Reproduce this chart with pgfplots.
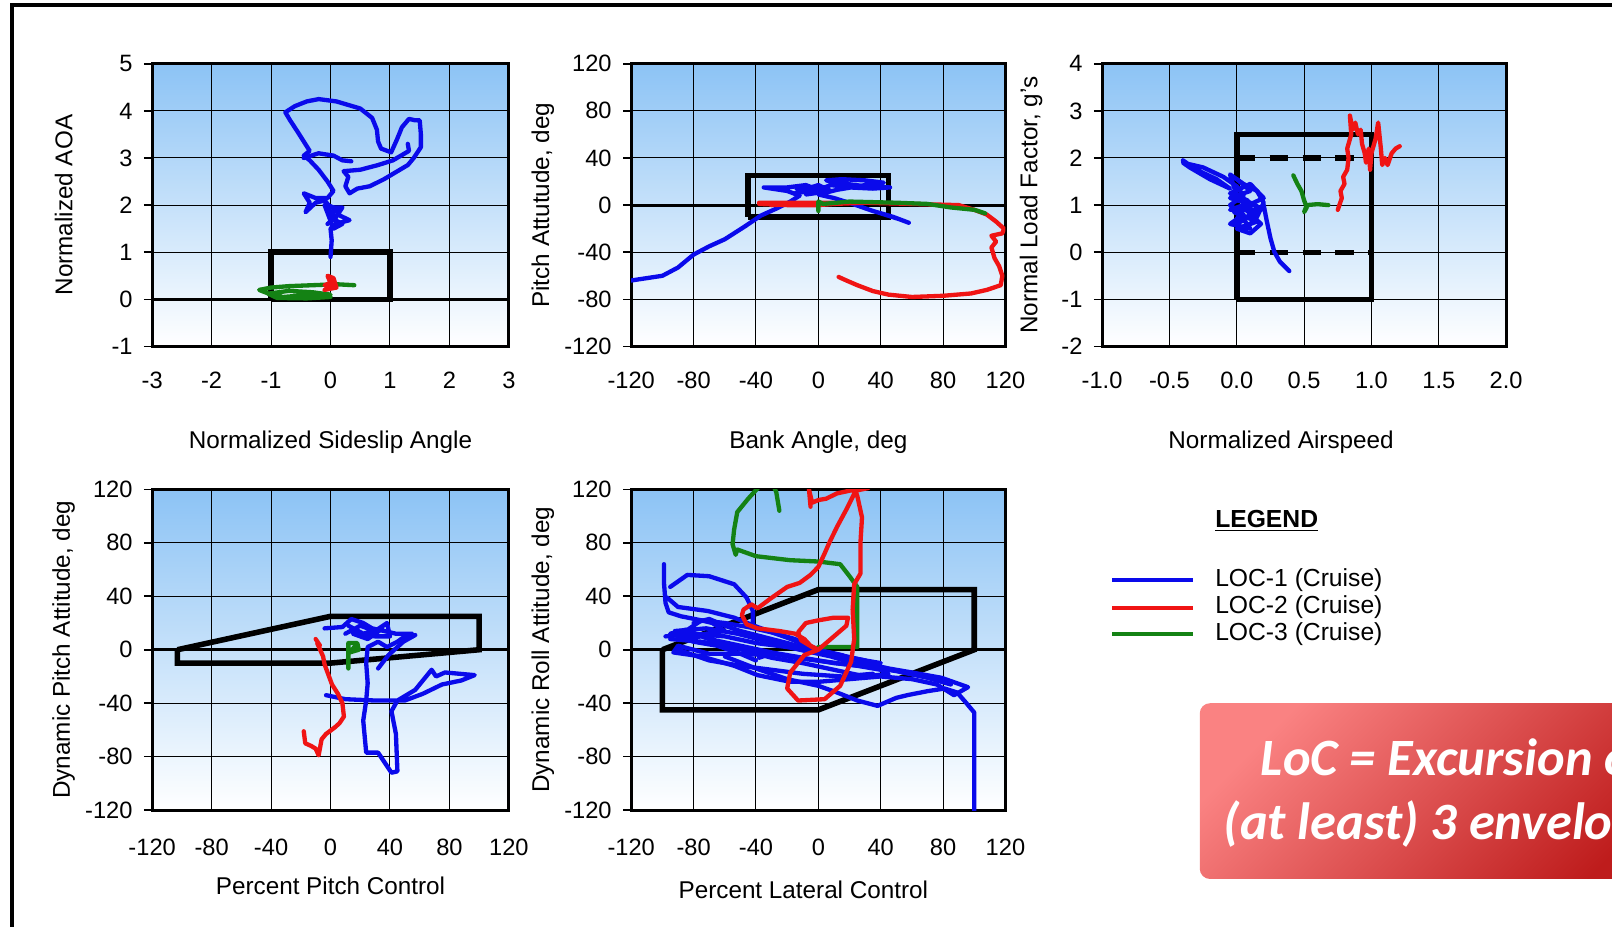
\documentclass[border=0pt]{standalone}
\usepackage{pgfplots}
\pgfplotsset{compat=1.18}
\usepackage{fontspec}
\setmainfont{Liberation Sans}
\newfontfamily\carlito{Carlito}
\definecolor{bgblue}{RGB}{140,195,245}
\definecolor{cblue}{RGB}{10,10,235}
\definecolor{cred}{RGB}{240,20,20}
\definecolor{cgreen}{RGB}{20,130,20}
\definecolor{boxlight}{RGB}{250,130,130}
\definecolor{boxdark}{RGB}{190,28,28}
\pgfplotsset{
 panel/.style={scale only axis, anchor=south west,
  axis line style={line width=1.5pt},
  grid=major, major grid style={black, line width=0.5pt},
  axis background/.style={top color=bgblue, bottom color=white},
  tick align=outside, xtick style={draw=none}, ytick style={black,line width=0.8pt},
  ytick pos=left, major tick length=4pt,
  tick label style={font=\fontsize{11.5}{13}\selectfont},
  /pgf/number format/assume math mode=true,
  xticklabel style={yshift=-5pt},
  yticklabel style={xshift=-2pt},
  every axis x label/.style={anchor=center, font=\fontsize{11.8}{14}\selectfont},
  every axis y label/.style={anchor=center, rotate=90, font=\fontsize{11.8}{14}\selectfont},
 },
 loc/.style={line width=2.1pt, line join=round, line cap=round},
 b/.style={loc, cblue}, r/.style={loc, cred}, g/.style={loc, cgreen},
 env/.style={black, line width=2.7pt, line join=miter},
 zl/.style={black, line width=1.5pt},
}
\begin{document}
\begin{tikzpicture}
\useasboundingbox (0,0) rectangle (784pt,450.5pt);
\clip (0,0) rectangle (784pt,450.5pt);
% outer frame
\draw[line width=2pt] (5.8pt,-5pt) -- (5.8pt,448pt) -- (800pt,448pt);

% Panel 1
\begin{axis}[panel, at={(74pt,282pt)}, width=173.5pt, height=137.5pt,
  xmin=-3, xmax=3, ymin=-1, ymax=5, xtick={-3,...,3}, ytick={-1,...,5},
  xlabel={Normalized Sideslip Angle}, ylabel={Normalized AOA},
  xlabel style={at={(axis description cs:0.5,-0.338)}},
  ylabel style={at={(axis description cs:-0.248,0.5)}}]
\addplot[zl] coordinates {(-3,0) (3,0)};
\addplot[env] coordinates {(-1,0) (-1,1) (1,1) (1,0) (-1,0)};
\addplot[b] coordinates {(0.0,0.9) (0.02,1.25) (0.0,1.5) (0.08,1.6) (0.32,1.68) (0.12,1.8) (0.2,1.95) (0.0,1.95) (-0.1,2.1) (-0.25,2.05) (-0.42,1.85) (-0.35,2.05) (-0.45,2.25) (-0.25,2.15) (-0.05,2.15) (0.05,2.3) (-0.05,2.5) (-0.2,2.75) (-0.35,2.95) (-0.45,3.05) (-0.35,3.15) (-0.45,3.35) (-0.55,3.55) (-0.68,3.8) (-0.76,3.97) (-0.6,4.1) (-0.4,4.2) (-0.2,4.25) (0.1,4.2) (0.5,4.05) (0.7,3.85) (0.78,3.6) (0.8,3.35) (0.85,3.2) (1.02,3.12) (1.12,3.4) (1.2,3.65) (1.32,3.83) (1.42,3.8) (1.5,3.8) (1.52,3.5) (1.52,3.23) (1.4,3.0) (1.3,2.85) (1.1,2.7) (0.9,2.55) (0.66,2.4) (0.45,2.35) (0.32,2.25) (0.25,2.4) (0.3,2.6) (0.22,2.72) (0.5,2.75) (0.8,2.85) (1.05,2.95) (1.32,3.15) (1.3,3.3)};
\addplot[b] coordinates {(-0.45,3.0) (-0.2,3.1) (0.05,3.05) (0.2,2.95) (0.35,2.93)};
\addplot[b] coordinates {(-0.05,1.6) (0.1,1.75) (0.0,1.85) (0.15,1.9) (-0.05,2.0) (0.05,1.7) (0.2,1.6) (0.05,1.5) (-0.1,2.0)};
\addplot[g] coordinates {(0.4,0.3) (0.1,0.32) (-0.3,0.3) (-0.7,0.28) (-1.0,0.25) (-1.2,0.2) (-1.0,0.1) (-0.8,0.05) (-0.5,0.08) (-0.2,0.05) (0.0,0.1) (-0.3,0.15) (-0.7,0.18) (-1.05,0.12) (-0.9,0.03) (-0.4,0.02) (0.0,0.05)};
\addplot[r] coordinates {(-0.1,0.2) (0.1,0.25) (0.05,0.45) (-0.05,0.5) (0.0,0.35) (-0.1,0.3) (0.05,0.3)};
\end{axis}

% Panel 2
\begin{axis}[panel, at={(307pt,282pt)}, width=182pt, height=137.5pt,
  xmin=-120, xmax=120, ymin=-120, ymax=120, xtick={-120,-80,...,120}, ytick={-120,-80,...,120},
  xlabel={Bank Angle, deg}, ylabel={Pitch Attutude, deg},
  xlabel style={at={(axis description cs:0.5,-0.338)}},
  ylabel style={at={(axis description cs:-0.236,0.5)}}]
\addplot[zl] coordinates {(-120,0) (120,0)};
\addplot[env] coordinates {(-45,-10) (-45,25) (45,25) (45,-10) (-45,-10)};
\addplot[b] coordinates {(-120,-64) (-110,-62) (-100,-60) (-90,-53) (-80,-42) (-70,-35) (-60,-29) (-47,-18) (-37,-9) (-27,-3) (-18,3) (-12,8) (-20,12) (-35,15) (-20,15) (-8,17) (0,13) (8,17) (20,15) (35,14) (46,15) (30,16) (12,19) (5,21) (15,22) (30,21) (42,19) (30,17) (12,13) (0,9) (10,6) (22,1) (35,-5) (48,-10) (58,-15) (52,-12) (40,-7)};
\addplot[b] coordinates {(-15,10) (-5,12) (5,10) (-5,15) (-12,12) (0,17) (8,12) (-8,9) (4,15) (-14,14)};
\addplot[r] coordinates {(-38,1) (-20,0) (0,0) (10,1) (30,2) (60,1) (90,0) (100,-4) (108,-8) (114,-14) (119,-20) (118,-24) (111,-26) (114,-31) (111,-36) (113,-45) (116,-52) (118,-60) (117,-68) (108,-72) (98,-75) (80,-77) (60,-78) (45,-76) (35,-73) (25,-68) (18,-64) (13,-61)};
\addplot[r] coordinates {(-38,2) (10,2) (-30,0)};
\addplot[g] coordinates {(0,-5) (0,3) (3,1) (20,3) (50,2) (70,1) (85,-2) (100,-4) (107,-7)};
\end{axis}

% Panel 3
\begin{axis}[panel, at={(536pt,282pt)}, width=196.5pt, height=137.5pt,
  xmin=-1, xmax=2, ymin=-2, ymax=4, xtick={-1,-0.5,...,2}, ytick={-2,...,4},
  xticklabel style={/pgf/number format/.cd, fixed, fixed zerofill, precision=1},
  xlabel={Normalized Airspeed}, ylabel={Normal Load Factor, g's},
  xlabel style={at={(axis description cs:0.443,-0.338)}},
  ylabel style={at={(axis description cs:-0.176,0.5)}}]
\addplot[env] coordinates {(0,-1) (0,2.5) (1,2.5) (1,-1) (0,-1)};
\addplot[black, line width=2.5pt, dash pattern=on 9pt off 7pt] coordinates {(0,2) (1,2)};
\addplot[black, line width=2.5pt, dash pattern=on 9pt off 7pt] coordinates {(0,0) (1,0)};
\addplot[b] coordinates {(-0.4,1.95) (-0.3,1.75) (-0.15,1.55) (-0.05,1.35) (-0.2,1.55) (-0.35,1.8) (-0.4,1.9) (-0.25,1.8) (-0.1,1.6) (0.0,1.4) (0.05,1.2) (-0.05,1.0) (0.05,0.8) (-0.05,0.6) (0.1,0.5) (0.05,0.7) (0.15,0.9) (-0.05,0.9) (0.1,1.05) (0.2,0.9) (0.0,1.2) (-0.05,1.65) (0.05,1.45) (0.15,1.3) (0.2,1.05) (0.15,0.75) (0.05,0.45) (0.0,0.6) (0.12,0.8) (0.2,1.0) (0.22,0.7) (0.25,0.3) (0.28,0.0) (0.32,-0.2) (0.39,-0.4)};
\addplot[b] coordinates {(0.0,1.55) (0.1,1.3) (-0.05,1.15) (0.12,1.0) (-0.02,0.85) (0.15,0.65) (0.0,0.5) (0.1,0.4) (0.18,0.6) (0.05,0.95) (0.2,1.15) (0.1,1.45) (-0.05,1.25) (0.08,1.1) (0.0,0.7)};
\addplot[g] coordinates {(0.42,1.63) (0.45,1.45) (0.48,1.3) (0.5,1.1) (0.52,0.95) (0.5,0.85) (0.52,1.0) (0.6,1.02) (0.68,1.0)};
\addplot[r] coordinates {(0.75,0.9) (0.78,1.15) (0.77,1.3) (0.8,1.45) (0.79,1.6) (0.82,1.75) (0.83,2.0) (0.82,2.2) (0.85,2.5) (0.84,2.9) (0.86,2.6) (0.88,2.75) (0.9,2.5) (0.92,2.6) (0.93,2.3) (0.95,2.1) (0.96,1.9) (0.98,2.2) (0.99,1.75) (1.0,2.1) (1.03,2.4) (1.05,2.75) (1.07,2.2) (1.08,1.85) (1.1,2.0) (1.12,1.85) (1.15,2.1) (1.18,2.2) (1.21,2.25)};
\end{axis}

% Panel 4
\begin{axis}[panel, at={(74pt,56.5pt)}, width=173.5pt, height=156pt,
  xmin=-120, xmax=120, ymin=-120, ymax=120, xtick={-120,-80,...,120}, ytick={-120,-80,...,120},
  xlabel={Percent Pitch Control}, ylabel={Dynamic Pitch Attitude, deg},
  xticklabel style={yshift=-1.5pt},
  xlabel style={at={(axis description cs:0.5,-0.237)}},
  ylabel style={at={(axis description cs:-0.248,0.5)}}]
\addplot[zl] coordinates {(-120,0) (120,0)};
\addplot[env] coordinates {(-103,0) (0,25) (100,25) (100,0) (0,-10) (-103,-10) (-103,0)};
\addplot[b] coordinates {(-4,16) (8,17) (14,23) (22,20) (28,16) (36,14) (44,12) (55,12) (50,10) (45,6) (38,2) (32,6) (25,2) (24,-10) (25,-25) (24,-38) (22,-53) (24,-77) (32,-77) (41,-92) (45,-91) (44,-63) (41,-46) (45,-38) (57,-30) (68,-15) (71,-20) (77,-17) (97,-19) (88,-23) (75,-26) (62,-33) (50,-38) (30,-38) (10,-37) (-3,-34)};
\addplot[b] coordinates {(32,-14) (39,-4) (49,6) (57,11)};
\addplot[b] coordinates {(10,12) (20,18) (30,14) (38,20) (40,10) (30,10) (15,12) (25,8) (35,16) (22,12) (12,18)};
\addplot[r] coordinates {(-10,8) (-7,3) (-9,5) (-5,-5) (-4,-11) (-1,-20) (1,-26) (5,-33) (8,-40) (9,-50) (6,-55) (3,-58) (-3,-63) (-6,-67) (-7,-73) (-8,-79) (-10,-74) (-13,-72) (-17,-70) (-18,-61)};
\addplot[g] coordinates {(12,-14) (12,5) (18,5) (19,0) (13,-2) (16,2)};
\end{axis}

% Panel 5
\begin{axis}[panel, at={(307pt,56.5pt)}, width=182pt, height=156pt,
  xmin=-120, xmax=120, ymin=-120, ymax=120, xtick={-120,-80,...,120}, ytick={-120,-80,...,120},
  xlabel={Percent Lateral Control}, ylabel={Dynamic Roll Attitude, deg},
  xticklabel style={yshift=-1.5pt},
  xlabel style={at={(axis description cs:0.46,-0.247)}},
  ylabel style={at={(axis description cs:-0.236,0.5)}}]
\addplot[zl] coordinates {(-120,0) (120,0)};
\addplot[env] coordinates {(-100,0) (0,45) (100,45) (100,0) (0,-45) (-100,-45) (-100,0)};
\addplot[b] coordinates {(-99,64) (-99,50) (-98,35) (-96,28) (-88,25) (-75,22) (-60,20) (-45,17) (-30,13) (-15,8) (0,0) (15,-4) (30,-10) (45,-14) (60,-17) (79,-21) (96,-28) (87,-34) (76,-26) (60,-22) (40,-20) (20,-22) (0,-24) (-18,-24) (-39,-19) (-54,-12) (-75,-5) (-93,-2) (-90,3) (-70,-3) (-50,-3) (-33,-4) (-38,-6)};
\addplot[b] coordinates {(-97,39) (-90,32) (-71,29) (-54,24) (-39,17) (-20,9) (0,0)};
\addplot[b] coordinates {(-95,47) (-84,56) (-70,55) (-54,49) (-46,39) (-42,29) (-42,18)};
\addplot[b] coordinates {(-98,10) (-80,12) (-60,10) (-40,5) (-20,2) (0,-2) (20,-6) (40,-10) (35,-13) (10,-10) (-10,-6) (-30,-2) (-50,3) (-70,8) (-85,15) (-95,12) (-80,6) (-65,3) (-50,-3) (-40,-8)};
\addplot[b] coordinates {(-60,-5) (-40,-14) (-20,-22) (0,-27) (12,-32) (25,-38) (38,-42) (50,-36) (57,-34) (70,-31) (81,-29) (89,-32) (95,-40) (100,-47) (100,-80) (100,-125)};
\addplot[b] coordinates {(-80,20) (-70,23) (-60,18) (-50,14) (-30,8) (-10,2) (10,-3) (30,-8) (45,-18) (30,-20) (10,-15) (-10,-10) (-30,-6) (-55,2) (-75,10) (-90,8)};
\addplot[b] coordinates {(-85,14) (-75,22) (-68,20) (-60,14) (-72,12) (-88,10)};
\addplot[b] coordinates {(-95,8) (-75,6) (-55,2) (-35,-2) (-15,-6) (5,-9) (25,-12) (40,-15)};
\addplot[b] coordinates {(-92,14) (-72,16) (-52,12) (-32,6) (-12,0) (8,-5) (28,-12) (50,-16) (70,-21) (85,-26)};
\addplot[b] coordinates {(-90,0) (-70,-8) (-50,-12) (-30,-15) (-10,-18) (15,-20) (35,-18)};
\addplot[g] coordinates {(-25,104) (-27,118) (-30,126) (-38,122) (-45,113) (-52,103) (-54,90) (-55,79) (-53,71) (-52,75) (-40,70) (-18,67) (0,66) (14,64) (20,55) (25,47) (25,25) (25,2) (10,2) (0,2)};
\addplot[r] coordinates {(-5,107) (-6,120) (-4,110) (0,112) (5,113) (12,117) (20,119) (32,121) (24,119) (18,105) (12,92) (7,80) (4,72) (0,62) (-5,56) (-12,50) (-20,47) (-31,38) (-39,31) (-43,34) (-48,30) (-49,26) (-46,19) (-39,16) (-25,14) (-15,12) (-9,8) (-5,3) (0,0) (8,8) (18,18) (19,24) (10,24) (0,22) (-8,20) (-13,13) (-11,7) (-4,2) (0,0) (-9,-4) (-18,-17) (-20,-29) (-13,-38) (4,-37) (14,-27) (21,-9) (23,8) (22,30) (23,49) (27,57) (27,80) (28,99) (25,115) (23,121)};
\end{axis}

% Legend
\node[anchor=west, font=\bfseries\fontsize{12}{14}\selectfont] at (587.5pt,197pt) {\underline{LEGEND}};
\draw[cblue, line width=2pt] (541pt,168.5pt) -- (580pt,168.5pt);
\draw[cred, line width=2pt] (541pt,155pt) -- (580pt,155pt);
\draw[cgreen, line width=2pt] (541pt,142pt) -- (580pt,142pt);
\node[anchor=west, font=\fontsize{12}{14}\selectfont] at (587.5pt,168.5pt) {LOC-1 (Cruise)};
\node[anchor=west, font=\fontsize{12}{14}\selectfont] at (587.5pt,155pt) {LOC-2 (Cruise)};
\node[anchor=west, font=\fontsize{12}{14}\selectfont] at (587.5pt,142pt) {LOC-3 (Cruise)};

% Red callout box
\shade[rounded corners=5pt, top color=boxlight, bottom color=boxdark, shading angle=45] (583.5pt,23pt) rectangle (820pt,108.5pt);
\node[anchor=base west, inner sep=0pt, text=white, font=\carlito\bfseries\itshape\fontsize{25.5}{30}\selectfont] at (613pt,73.5pt) {LoC = Excursion outside of};
\node[anchor=base west, inner sep=0pt, text=white, font=\carlito\bfseries\itshape\fontsize{25.5}{30}\selectfont] at (595pt,42pt) {(at least) 3 envelopes};
\end{tikzpicture}
\end{document}
